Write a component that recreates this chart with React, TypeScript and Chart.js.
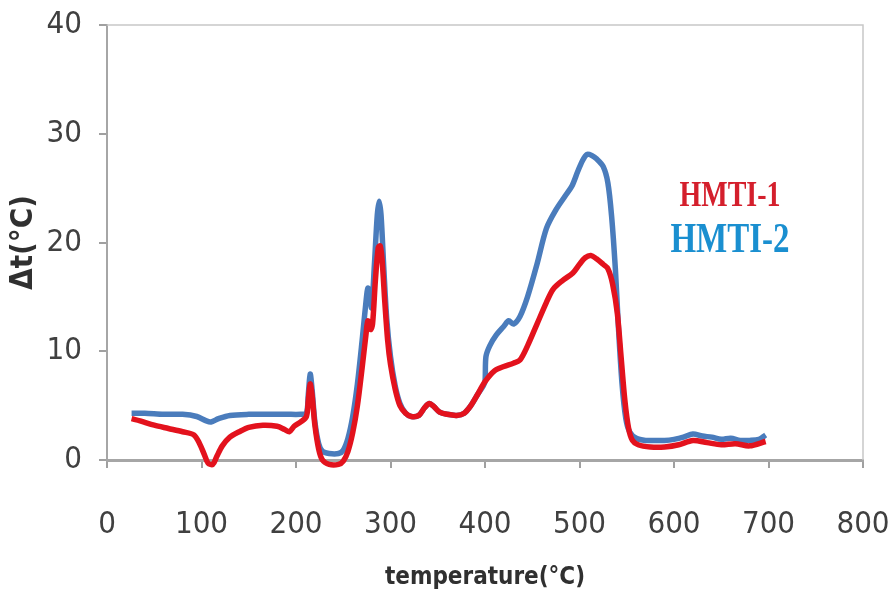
import React, { useEffect, useRef } from "react";
import { Chart, registerables } from "chart.js";

Chart.register(...registerables);

// HMTI-1 (red)
const tempsHMTI1 = [26, 35, 50, 65, 80, 92, 98, 103, 107, 112, 116, 122, 130, 140, 150, 165, 180, 188, 193, 198, 205, 211, 213, 215, 217, 220, 224, 228, 235, 245, 250, 255, 260, 265, 270, 274, 276, 279, 281, 284, 287, 289, 291, 294, 297, 300, 305, 310, 316, 322, 330, 336, 341, 346, 352, 360, 370, 378, 385, 392, 400, 410, 420, 430, 437, 445, 455, 465, 472, 482, 493, 500, 506, 512, 518, 525, 530, 535, 540, 544, 548, 552, 556, 562, 575, 590, 605, 620, 635, 650, 665, 680, 697];
const valuesHMTI1 = [3.8, 3.6, 3.2, 2.9, 2.6, 2.3, 1.5, 0.5, -0.3, -0.4, 0.3, 1.3, 2.1, 2.6, 3.0, 3.2, 3.1, 2.8, 2.6, 3.1, 3.5, 4.0, 5.5, 7.0, 6.0, 3.2, 1.0, 0.0, -0.4, -0.4, -0.1, 0.8, 2.5, 5.0, 8.5, 11.5, 12.8, 12.0, 12.5, 16.5, 19.5, 19.7, 18.5, 14.5, 11.0, 8.8, 6.5, 5.0, 4.3, 4.0, 4.1, 4.8, 5.2, 4.9, 4.4, 4.2, 4.1, 4.3, 5.0, 6.0, 7.2, 8.2, 8.6, 8.9, 9.2, 10.5, 12.5, 14.5, 15.7, 16.5, 17.2, 18.0, 18.6, 18.8, 18.5, 18.0, 17.6, 16.2, 13.5, 9.5, 5.5, 2.9, 1.8, 1.4, 1.2, 1.2, 1.4, 1.8, 1.6, 1.4, 1.5, 1.3, 1.7];

// HMTI-2 (blue)
const tempsHMTI2 = [26, 40, 60, 80, 95, 105, 110, 118, 130, 150, 170, 190, 205, 211, 213, 215, 217, 220, 224, 228, 235, 245, 250, 255, 260, 265, 270, 274, 276, 278, 280, 283, 286, 288, 290, 293, 296, 300, 305, 310, 316, 322, 330, 336, 341, 346, 352, 360, 370, 378, 385, 392, 398, 400, 401, 405, 412, 420, 425, 430, 437, 445, 455, 465, 475, 485, 492, 498, 503, 508, 513, 518, 525, 530, 534, 538, 541, 545, 549, 553, 560, 570, 580, 590, 600, 610, 620, 630, 640, 650, 660, 670, 680, 690, 697];
const valuesHMTI2 = [4.3, 4.3, 4.2, 4.2, 4.0, 3.6, 3.5, 3.8, 4.1, 4.2, 4.2, 4.2, 4.2, 4.3, 6.0, 7.9, 6.5, 3.5, 1.5, 0.8, 0.6, 0.6, 0.9, 2.0, 4.0, 7.0, 11.0, 14.5, 15.8, 15.2, 14.0, 18.0, 22.5, 23.8, 22.5, 17.5, 13.0, 9.5, 6.8, 5.2, 4.3, 4.0, 4.1, 4.8, 5.2, 4.9, 4.4, 4.2, 4.1, 4.3, 5.0, 6.0, 6.8, 7.2, 9.5, 10.5, 11.5, 12.3, 12.8, 12.5, 13.2, 15.0, 18.0, 21.3, 23.0, 24.3, 25.2, 26.5, 27.5, 28.1, 28.0, 27.7, 27.0, 25.5, 22.4, 17.5, 12.5, 7.0, 3.8, 2.6, 2.0, 1.8, 1.8, 1.8, 1.9, 2.1, 2.4, 2.2, 2.1, 1.9, 2.0, 1.8, 1.8, 1.9, 2.3];

const seriesNames = ["HMTI-1", "HMTI-2"];
const xTitle = "temperature(°C)";
const yTitle = "Δt(°C)";

const toPoints = (xs: number[], ys: number[]) => xs.map((x, i) => ({ x, y: ys[i] }));

const tickFont = { family: "'Liberation Sans Narrow', 'DejaVu Sans Condensed', sans-serif", size: 31 };
const xTitleFont = { family: "'Liberation Sans Narrow', 'DejaVu Sans Condensed', sans-serif", size: 24, weight: "bold" as const };
const yTitleFont = { family: "'Liberation Sans Narrow', 'DejaVu Sans Condensed', sans-serif", size: 31, weight: "bold" as const };

const boxPlugin = {
  id: "boxPlugin",
  beforeDatasetsDraw(chart: any) {
    const { ctx, chartArea } = chart;
    ctx.save();
    ctx.strokeStyle = "#c8c8c8";
    ctx.lineWidth = 1.5;
    ctx.beginPath();
    ctx.moveTo(chartArea.left, chartArea.top);
    ctx.lineTo(chartArea.right, chartArea.top);
    ctx.lineTo(chartArea.right, chartArea.bottom);
    ctx.stroke();
    ctx.restore();
  },
};

const labelPlugin = {
  id: "labelPlugin",
  afterDraw(chart: any) {
    const { ctx } = chart;
    const sizes = [28, 33];
    const ys = [197, 241];
    ctx.save();
    ctx.textAlign = "center";
    ctx.textBaseline = "middle";
    chart.data.datasets.forEach((ds: any, i: number) => {
      ctx.font = `bold ${sizes[i]}px 'Liberation Serif', serif`;
      ctx.fillStyle = ds.labelColor;
      ctx.save();
      ctx.translate(730, ys[i]);
      ctx.scale(1, 1.3);
      ctx.fillText(ds.label, 0, 0);
      ctx.restore();
    });
    ctx.restore();
  },
};

export default function App() {
  const ref = useRef<HTMLCanvasElement | null>(null);
  useEffect(() => {
    if (!ref.current) return;
    const chart = new Chart(ref.current, {
      type: "line",
      data: {
        datasets: [
          {
            label: seriesNames[0],
            data: toPoints(tempsHMTI1, valuesHMTI1),
            borderColor: "#e3121d",
            borderWidth: 5.5,
            pointRadius: 0,
            tension: 0.3,
            clip: false,
            labelColor: "#d41f2c",
          } as any,
          {
            label: seriesNames[1],
            data: toPoints(tempsHMTI2, valuesHMTI2),
            borderColor: "#4a7cbc",
            borderWidth: 5.5,
            pointRadius: 0,
            tension: 0.3,
            clip: false,
            labelColor: "#1a8fd0",
          } as any,
        ],
      },
      options: {
        animation: false,
        responsive: true,
        maintainAspectRatio: false,
        layout: { padding: { left: 0, right: 25, top: 25, bottom: 0 } },
        plugins: { legend: { display: false }, tooltip: { enabled: false } },
        scales: {
          x: {
            type: "linear",
            min: 0,
            max: 800,
            ticks: { stepSize: 100, font: tickFont, color: "#404040", padding: 38, maxRotation: 0 },
            grid: { drawOnChartArea: false, drawTicks: true, tickLength: 8, color: "#a0a0a0", lineWidth: 2 },
            border: { color: "#a6a6a6", width: 3 },
            title: { display: true, text: xTitle, font: xTitleFont, color: "#303030", padding: { top: 0, bottom: 6 } },
            afterFit: (s: any) => { s.height = 138; s.paddingLeft = 0; s.paddingRight = 0; },
          },
          y: {
            type: "linear",
            min: 0,
            max: 40,
            ticks: { stepSize: 10, font: tickFont, color: "#404040", padding: 17 },
            grid: { drawOnChartArea: false, drawTicks: true, tickLength: 8, color: "#a0a0a0", lineWidth: 2 },
            border: { color: "#a6a6a6", width: 2 },
            title: { display: true, text: yTitle, font: yTitleFont, color: "#303030", padding: { top: 5, bottom: 0 } },
            afterFit: (s: any) => { s.width = 107; s.paddingTop = 0; s.paddingBottom = 0; },
          },
        },
      } as any,
      plugins: [boxPlugin, labelPlugin],
    });
    return () => chart.destroy();
  }, []);
  return (
    <div style={{ position: "fixed", left: 0, top: 0, width: 888, height: 598, background: "#fff" }}>
      <canvas ref={ref} />
    </div>
  );
}
